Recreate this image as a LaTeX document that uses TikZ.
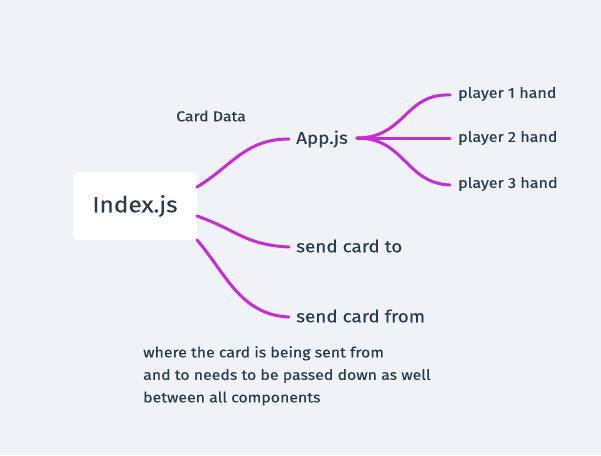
\documentclass[tikz,border=0pt]{standalone}
\usepackage{fontspec}
\setmainfont[FakeStretch=1.11,FakeBold=0.35,AutoFakeBold=0.35]{Fira Sans}
\definecolor{bg}{HTML}{EFF3F7}
\definecolor{ink}{HTML}{2B3A4A}
\definecolor{branch}{HTML}{C62CCF}
\begin{document}
\begin{tikzpicture}[x=1pt,y=-1pt,
  lbl/.style={anchor=west,text=ink,inner sep=0pt,font=\fontsize{17}{20}\selectfont},
  small/.style={anchor=west,text=ink,inner sep=0pt,font=\fontsize{14.5}{17}\selectfont},
  link/.style={draw=branch,line width=3pt,line cap=round}]
\fill[bg] (0,0) rectangle (601,455);
\useasboundingbox (0,0) rectangle (601,455);
\node[fill=white,rounded corners=5pt,minimum width=124pt,minimum height=68pt,text=ink,font=\fontsize{22}{26}\selectfont] (index) at (135,206) {Index.js};
\node[small,font=\fontsize{14.3}{16}\selectfont] (carddata) at (176,116) {Card Data};
\node[lbl] (app) at (296,139) {App.js};
\node[lbl] (to) at (296,246) {send card to};
\node[lbl] (from) at (296,316) {send card from};
\node[small] (p1) at (458,94) {player 1 hand};
\node[small] (p2) at (458,138) {player 2 hand};
\node[small] (p3) at (458,184) {player 3 hand};
\node[small,align=left,font=\fontsize{14.3}{22.5}\selectfont,anchor=north west] (note) at (143,346) {where the card is being sent from\\and to needs to be passed down as well\\between all components};
\coordinate (i1) at (197,187);
\coordinate (i2) at (197,216);
\coordinate (i3) at (197,240);
\coordinate (a0) at (357,138);
\draw[link] (i1) .. controls (232,166) and (245,139) .. ([xshift=-7pt]app.west);
\draw[link] (i2) .. controls (237,230) and (245,245) .. ([xshift=-7pt,yshift=-1pt]to.west);
\draw[link] (i3) .. controls (225,272) and (240,315) .. ([xshift=-7pt,yshift=-1pt]from.west);
\draw[link] (a0) .. controls (405,138) and (405,93) .. ([xshift=-8pt,yshift=-1pt]p1.west);
\draw[link] (a0) -- ([xshift=-8pt]p2.west);
\draw[link] (a0) .. controls (405,138) and (405,183) .. ([xshift=-8pt,yshift=-1pt]p3.west);
\end{tikzpicture}
\end{document}
